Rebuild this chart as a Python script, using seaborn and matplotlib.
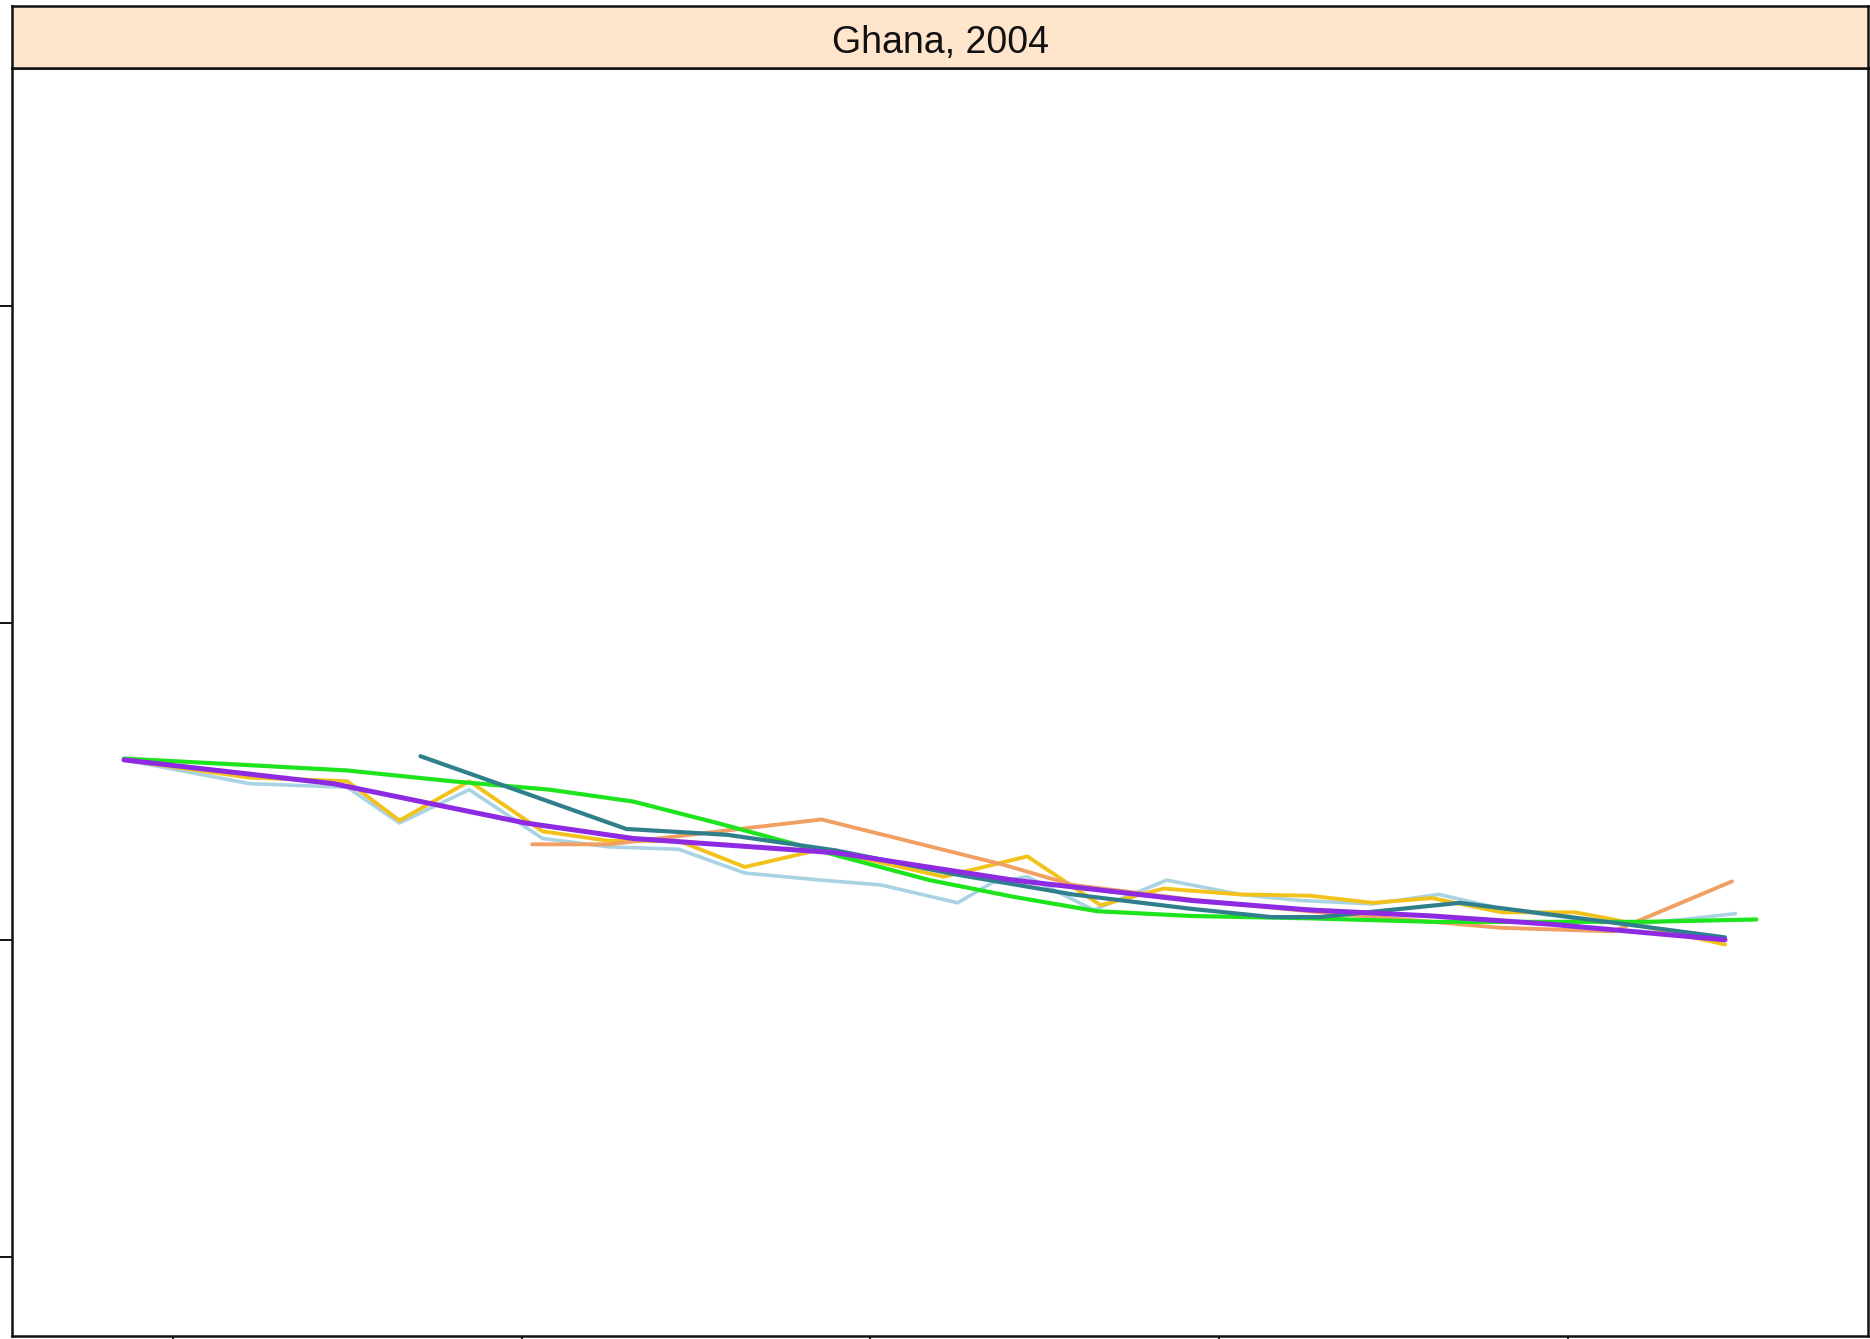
import matplotlib
matplotlib.use("Agg")
import matplotlib.pyplot as plt
import seaborn as sns
import pandas as pd

sns.set_style("white")
plt.rcParams['font.family'] = ['Liberation Sans', 'DejaVu Sans']

panel_title = "Ghana, 2004"
x_ticks = [1960, 1970, 1980, 1990, 2000]
y_ticks = [0.0, 0.2, 0.4, 0.6]

lightblue_x = [1958.6, 1962.2, 1965.0, 1966.5, 1968.5, 1970.6, 1972.5, 1974.5, 1976.4, 1978.6,
               1980.3, 1982.5, 1983.5, 1984.5, 1986.4, 1988.5, 1990.6, 1992.3, 1994.4, 1996.3,
               1998.1, 2000.2, 2001.9, 2003.6, 2004.8]
lightblue_y = [0.3135, 0.2985, 0.2962, 0.2737, 0.2947, 0.2639, 0.2586, 0.2571, 0.2421, 0.2376,
               0.2346, 0.2233, 0.2361, 0.2398, 0.2188, 0.2376, 0.2286, 0.2248, 0.2226, 0.2286,
               0.2195, 0.2135, 0.2098, 0.2135, 0.2165]

yellow_x = [1958.6, 1962.2, 1965.0, 1966.5, 1968.5, 1970.6, 1972.5, 1974.5, 1976.4, 1978.6,
            1982.1, 1984.5, 1986.6, 1988.4, 1990.6, 1992.6, 1994.4, 1996.1, 1998.1, 2000.2,
            2001.3, 2004.5]
yellow_y = [0.3135, 0.3023, 0.3000, 0.2752, 0.3000, 0.2684, 0.2624, 0.2624, 0.2459, 0.2571,
            0.2398, 0.2526, 0.2218, 0.2323, 0.2286, 0.2278, 0.2233, 0.2263, 0.2173, 0.2173,
            0.2128, 0.1970]

orange_x = [1970.3, 1972.5, 1975.9, 1978.6, 1983.8, 1985.8, 1989.4, 1992.9, 1996.1, 1998.1,
            2001.3, 2004.7]
orange_y = [0.2602, 0.2602, 0.2690, 0.2759, 0.2474, 0.2346, 0.2248, 0.2173, 0.2113, 0.2075,
            0.2053, 0.2368]

green_x = [1958.6, 1961.9, 1965.0, 1968.0, 1970.8, 1973.2, 1975.6, 1979.0, 1981.7, 1984.1,
           1986.5, 1989.2, 1992.6, 1996.1, 1999.5, 2002.2, 2005.4]
green_y = [0.3143, 0.3105, 0.3068, 0.3000, 0.2947, 0.2872, 0.2737, 0.2534, 0.2376, 0.2271,
           0.2180, 0.2150, 0.2135, 0.2113, 0.2113, 0.2113, 0.2128]

teal_x = [1967.1, 1970.1, 1973.0, 1975.9, 1979.0, 1982.4, 1985.8, 1989.2, 1991.5, 1992.9,
          1996.9, 2001.4, 2004.5]
teal_y = [0.3158, 0.2925, 0.2699, 0.2662, 0.2564, 0.2414, 0.2286, 0.2195, 0.2143, 0.2143,
          0.2233, 0.2105, 0.2015]

purple_x = [1958.6, 1964.6, 1970.1, 1973.2, 1979.0, 1984.1, 1989.2, 1992.6, 1996.1, 1999.5, 2004.5]
purple_y = [0.3135, 0.2985, 0.2737, 0.2639, 0.2549, 0.2376, 0.2248, 0.2188, 0.2150, 0.2098, 0.2000]

series = [
    ("lightblue", lightblue_x, lightblue_y, "#a9d3e3", 2.6),
    ("yellow", yellow_x, yellow_y, "#f2c21b", 2.8),
    ("orange", orange_x, orange_y, "#f0a062", 2.8),
    ("green", green_x, green_y, "#1ee41e", 3.0),
    ("teal", teal_x, teal_y, "#2f7f8c", 3.0),
    ("purple", purple_x, purple_y, "#8e2be2", 3.6),
]

W, H = 1870, 1339
fig = plt.figure(figsize=(W / 100, H / 100), dpi=100)
ax_left = 12 / W
ax_right = 1868 / W
ax_bottom = 3 / H
ax_top = 1 - 68 / H
ax = fig.add_axes([ax_left, ax_bottom, ax_right - ax_left, ax_top - ax_bottom])
strip = fig.add_axes([ax_left, ax_top, ax_right - ax_left, 62 / H])

for name, xs, ys, col, lw in series:
    df = pd.DataFrame({"x": xs, "y": ys})
    sns.lineplot(data=df, x="x", y="y", ax=ax, color=col, linewidth=lw,
                 sort=False, estimator=None)

ax.set_xlim(1955.39, 2008.6)
ax.set_ylim(-0.05, 0.75)
ax.set_xticks(x_ticks)
ax.set_yticks(y_ticks)
ax.set_xticklabels([])
ax.set_yticklabels([])
ax.set_xlabel("")
ax.set_ylabel("")
ax.tick_params(axis="both", direction="out", length=9, width=1.4, color="#111111",
               bottom=True, left=True)
for sp in ax.spines.values():
    sp.set_color("#111111")
    sp.set_linewidth(1.8)

strip.set_facecolor("#ffe5cc")
strip.set_xticks([])
strip.set_yticks([])
for sp in strip.spines.values():
    sp.set_color("#111111")
    sp.set_linewidth(1.8)
strip.text(0.5, 0.40, panel_title, ha="center", va="center", fontsize=27,
           color="#111111", transform=strip.transAxes)

fig.savefig("out.png", dpi=100)
